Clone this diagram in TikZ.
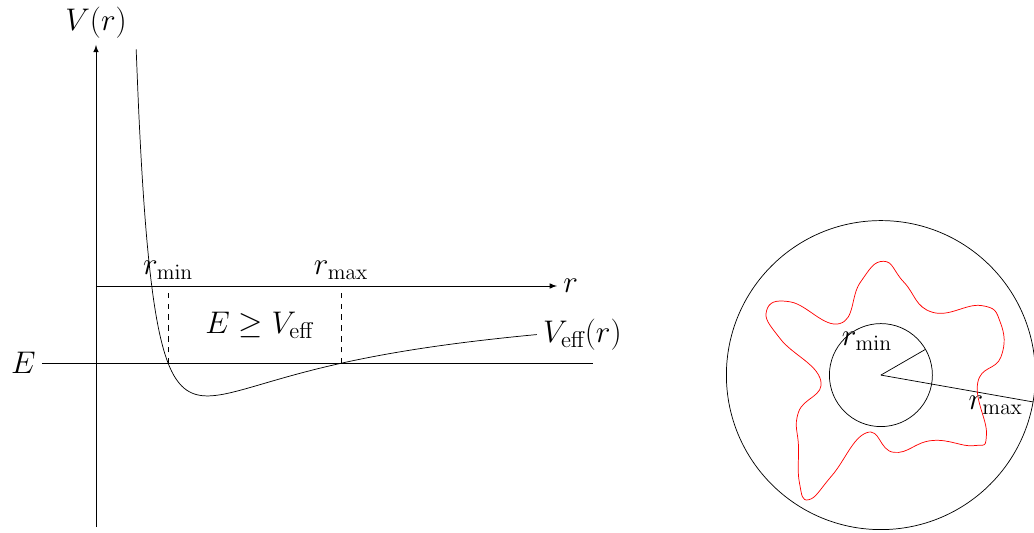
\documentclass[tikz,border=0pt]{standalone}
\usepackage{amsmath}
\usepackage{amssymb}
\usepackage{tikz}
\usetikzlibrary{arrows, positioning, calc}

\begin{document}
\begin{tikzpicture}[
    axis/.style={->, >=latex},
    level/.style={dashed},
    potential/.style={domain=0.78:8.56, samples=160, smooth},
    orbit/.style={draw=red},
    every node/.style={font=\fontsize{18}{22}\selectfont}
]
\useasboundingbox (-1.864,-4.796) rectangle (18.213,5.553);

% Axes
\coordinate (O) at (0,0);
\coordinate (ybot) at (0,-4.68);
\coordinate (ytop) at (0,4.68);
\coordinate (xend) at (8.95,0);
\draw[axis] (ybot) -- (ytop);
\draw[axis] (O) -- (xend);
\node[above] (vlabel) at (ytop) {$V(r)$};
\node[right] (rlabel) at (xend) {$r$};

% Energy level
\coordinate (estart) at (-1.05,-1.5);
\coordinate (eend) at (9.65,-1.5);
\draw (estart) -- (eend);
\node[left] (elabel) at (estart) {$E$};

% Effective potential
\draw[potential] plot (\x, {10/(\x*\x) - 9.24/\x}) coordinate (vend);
\node[right] (vefflabel) at (vend) {$V_{\text{eff}}(r)$};

% Turning points
\coordinate (rmin) at (1.401,-1.5);
\coordinate (rmax) at (4.759,-1.5);
\draw[level] (rmin) -- (rmin |- O);
\draw[level] (rmax) -- (rmax |- O);
\node[above] (rminlabel) at (rmin |- O) {$r_{\min}$};
\node[above] (rmaxlabel) at (rmax |- O) {$r_{\max}$};
\node (allowed) at (3.17,-0.76) {$E \geq V_{\text{eff}}$};

% Orbit between the two radii
\coordinate (C) at (15.24,-1.73);
\draw (C) circle (1);
\draw (C) circle (3);
\coordinate (rin) at ($(C)+(30:1)$);
\coordinate (rout) at ($(C)+(-10:3)$);
\draw (C) -- (rin);
\draw (C) -- (rout);
\node (rinlabel) at ($(C)+(-0.27,0.66)$) {$r_{\min}$};
\node (routlabel) at ($(C)+(2.23,-0.58)$) {$r_{\max}$};
\draw[orbit, shift={(C)}] plot[smooth cycle, tension=0.8] coordinates {
    (0.05,2.21) (-0.40,1.80) (-0.80,1.00) (-1.75,1.42) (-2.22,1.25)
    (-1.95,0.70) (-1.17,-0.10) (-1.60,-0.72) (-1.60,-1.40) (-1.58,-2.10)
    (-1.40,-2.42) (-0.95,-1.95) (-0.28,-1.12) (0.25,-1.50) (1.00,-1.27)
    (1.80,-1.37) (2.05,-1.15) (1.88,-0.15) (2.33,0.35) (2.32,1.02)
    (1.95,1.35) (1.00,1.22) (0.45,1.80)};

\end{tikzpicture}
\end{document}
